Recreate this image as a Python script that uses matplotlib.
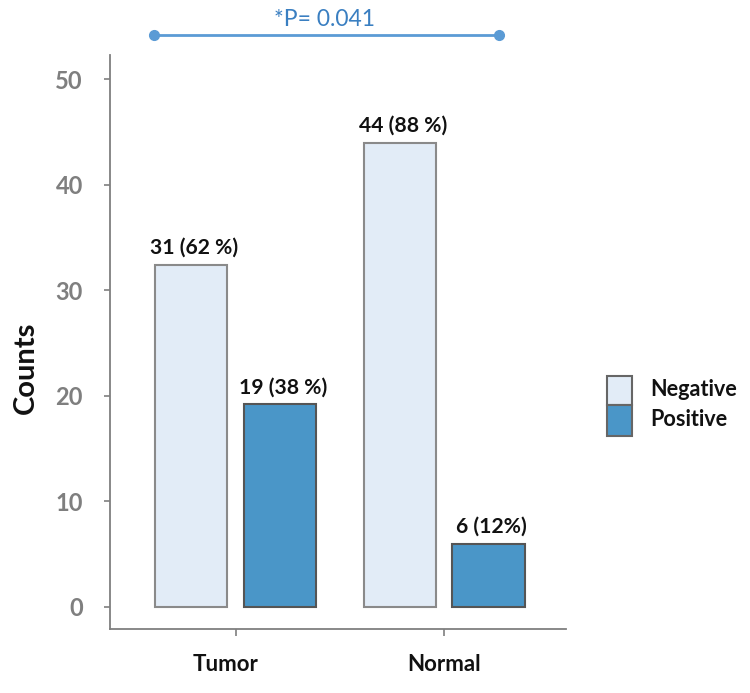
import matplotlib
matplotlib.use("Agg")
import matplotlib.pyplot as plt
from matplotlib.patches import Rectangle
import matplotlib.transforms as mtransforms
import numpy as np

groups = ["Tumor", "Normal"]
series = ["Negative", "Positive"]
bar_heights = {"Negative": [32.4, 44.0], "Positive": [19.2, 6.0]}
bar_labels = {"Negative": ["31 (62 %)", "44 (88 %)"], "Positive": ["19 (38 %)", "6 (12%)"]}
yticks = [0, 10, 20, 30, 40, 50]
p_text = "*P= 0.041"

fills = {"Negative": "#e2ecf7", "Positive": "#4a96c8"}
edges = {"Negative": "#8a8a8a", "Positive": "#555555"}
gray = "#7f7f7f"
FONT = "Lato"

W, H = 750, 693
fig = plt.figure(figsize=(W / 100, H / 100), dpi=100)
ax = fig.add_axes([110 / W, 1 - 629 / H, (566 - 110) / W, (629 - 55) / H])

x = np.arange(len(groups))
width = 0.346
offsets = {"Negative": -0.213, "Positive": 0.213}
for s in series:
    bars = ax.bar(x + offsets[s], bar_heights[s], width, color=fills[s],
                  edgecolor=edges[s], linewidth=1.5, zorder=2)
    for b, lab in zip(bars, bar_labels[s]):
        ax.annotate(lab, (b.get_x() + b.get_width() / 2 + 0.015, b.get_height()),
                    xytext=(0, 5), textcoords="offset points", ha="center", va="bottom",
                    fontsize=15.2, fontweight="bold", color="#111111", family=FONT)

ax.set_xlim(-0.602, 1.585)
ax.set_ylim(-2.09, 52.3)
ax.set_yticks(yticks)
ax.set_yticklabels([str(t) for t in yticks], fontsize=17, fontweight="bold",
                   color=gray, family=FONT)
ax.set_xticks(x)
ax.set_xticklabels(groups, fontsize=16, fontweight="bold", color="#111111", family=FONT)
ax.tick_params(axis="y", direction="out", length=4.5, width=1.2, color=gray, pad=15)
ax.tick_params(axis="x", direction="out", length=5, width=1.2, color=gray, pad=13)
# the first group label sits slightly left of its tick in the reference
lbl0 = ax.get_xticklabels()[0]
lbl0.set_transform(lbl0.get_transform() +
                   mtransforms.ScaledTranslation(-10 / 100, 0, fig.dpi_scale_trans))
for sp in ["top", "right"]:
    ax.spines[sp].set_visible(False)
for sp in ["left", "bottom"]:
    ax.spines[sp].set_color(gray)
    ax.spines[sp].set_linewidth(1.3)

fig.text(26 / W, 1 - 368 / H, "Counts", rotation=90, ha="center", va="center",
         fontsize=21, fontweight="bold", color="#111111", family=FONT)

# significance bracket
line_col = "#5b9bd5"
fig.add_artist(plt.Line2D([154 / W, 499 / W], [1 - 35 / H, 1 - 35 / H],
                          color=line_col, lw=2, marker="o", markersize=7,
                          transform=fig.transFigure))
fig.text(324 / W, 1 - 19 / H, p_text, ha="center", va="center", fontsize=16.5,
         color="#3a7fc1", family=FONT)

# legend
leg_y = {"Negative": (376, 405, 390), "Positive": (405, 436, 420)}
for s in series:
    top, bot, cy = leg_y[s]
    fig.add_artist(Rectangle((607 / W, 1 - bot / H), 25 / W, (bot - top) / H,
                             facecolor=fills[s], edgecolor="#666666", lw=1.5,
                             transform=fig.transFigure))
    fig.text(650 / W, 1 - cy / H, s, ha="left", va="center", fontsize=15.6,
             fontweight="bold", color="#111111", family=FONT)

fig.savefig("out.png", dpi=100)
